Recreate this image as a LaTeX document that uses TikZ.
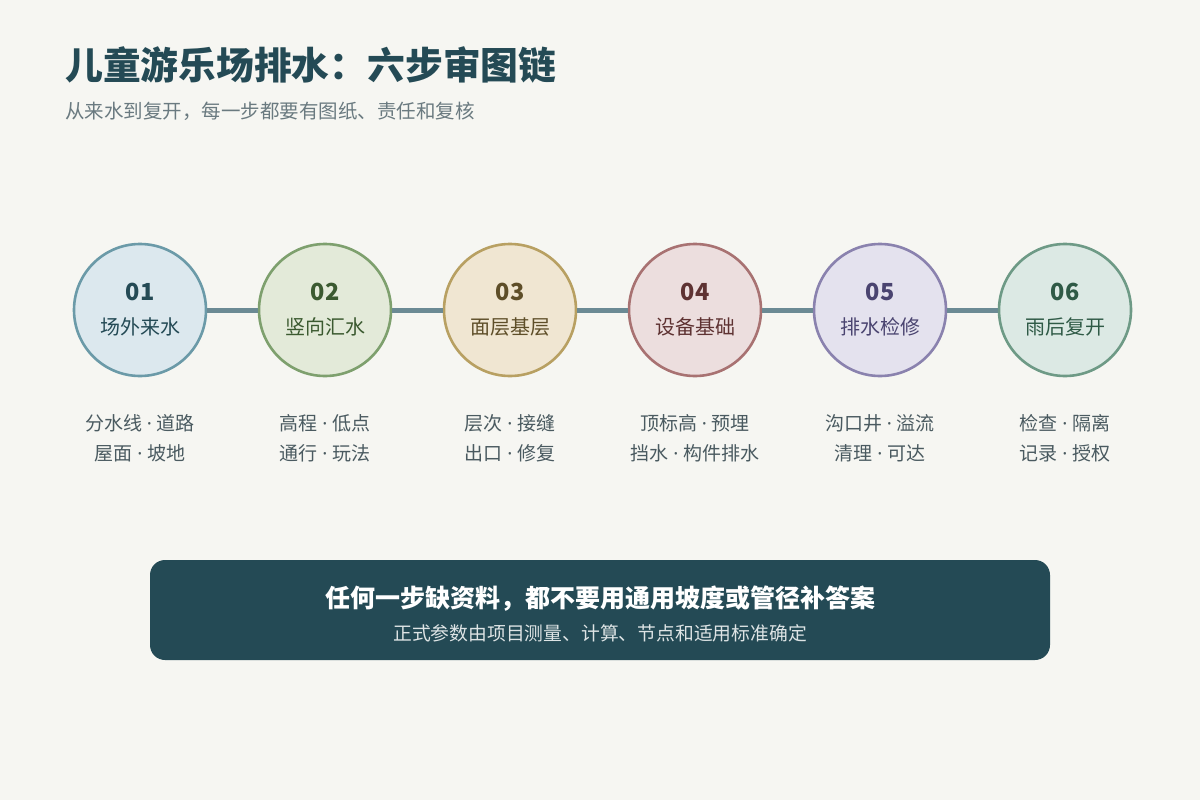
\documentclass[tikz,border=0pt]{standalone}
\usepackage{fontspec}
\setmainfont{Noto Sans CJK SC}
\newfontfamily\latinf{Noto Sans}
\newcommand{\sepdot}{{\latinf\ ·\ }}
\begin{document}
\begin{tikzpicture}[x=1pt,y=-1pt,
  stepc/.style={circle,minimum size=132pt,line width=2.6pt,inner sep=0pt},
  numtxt/.style={font=\fontsize{23.5}{26}\selectfont\bfseries},
  labtxt/.style={font=\fontsize{20}{22}\selectfont},
  subtxt/.style={font=\fontsize{19}{29.5}\selectfont,text=subc,align=center},
  conn/.style={line width=5pt,draw=linkc}]
\definecolor{bg}{HTML}{F6F6F2}
\definecolor{titlec}{HTML}{244A55}
\definecolor{subtc}{HTML}{6A7A80}
\definecolor{subc}{HTML}{4A5A60}
\definecolor{linkc}{HTML}{6B8A94}
\definecolor{boxc}{HTML}{244A55}
\definecolor{fa}{HTML}{DCE8EE}\definecolor{sa}{HTML}{6B9AA8}\definecolor{ta}{HTML}{244A55}
\definecolor{fb}{HTML}{E3EAD9}\definecolor{sb}{HTML}{7EA06E}\definecolor{tb}{HTML}{3B5A30}
\definecolor{fc}{HTML}{F0E6D2}\definecolor{sc}{HTML}{B8A062}\definecolor{tc}{HTML}{5E4E28}
\definecolor{fd}{HTML}{ECDEDE}\definecolor{sd}{HTML}{A87272}\definecolor{td}{HTML}{5E3232}
\definecolor{fe}{HTML}{E4E2EE}\definecolor{se}{HTML}{8A82AE}\definecolor{te}{HTML}{4A4470}
\definecolor{ff}{HTML}{DCE9E4}\definecolor{sf}{HTML}{6E9A86}\definecolor{tf}{HTML}{2F5A46}
\fill[bg] (0,0) rectangle (1200,800);
\useasboundingbox (0,0) rectangle (1200,800);
\node[anchor=base west,inner sep=0pt,text=titlec,font=\fontsize{37.8}{42}\selectfont\bfseries] (title) at (65,80) {儿童游乐场排水：六步审图链};
\node[anchor=base west,inner sep=0pt,text=subtc,font=\fontsize{19.5}{22}\selectfont] (subtitle) at (65,118) {从来水到复开，每一步都要有图纸、责任和复核};
\foreach \i/\x/\f/\s/\t/\n/\l/\a/\b in {1/140/fa/sa/ta/01/场外来水/分水线\sepdot 道路/屋面\sepdot 坡地,
  2/325/fb/sb/tb/02/竖向汇水/高程\sepdot 低点/通行\sepdot 玩法,
  3/510/fc/sc/tc/03/面层基层/层次\sepdot 接缝/出口\sepdot 修复,
  4/695/fd/sd/td/04/设备基础/顶标高\sepdot 预埋/挡水\sepdot 构件排水,
  5/880/fe/se/te/05/排水检修/沟口井\sepdot 溢流/清理\sepdot 可达,
  6/1065/ff/sf/tf/06/雨后复开/检查\sepdot 隔离/记录\sepdot 授权}{
  \node[stepc,fill=\f,draw=\s] (c\i) at (\x,310) {};
  \node[numtxt,text=\t,anchor=base,inner sep=0pt] (n\i) at (\x,300) {\n};
  \node[labtxt,text=\t,anchor=base,inner sep=0pt] (l\i) at (\x,334) {\l};
  \node[subtxt,anchor=base,inner sep=0pt] (d\i) at (\x,460) {\a\\\b};
}
\foreach \i/\j in {1/2,2/3,3/4,4/5,5/6}{
  \draw[conn] (c\i.east) -- (c\j.west);
}
\node[fill=boxc,rounded corners=15pt,minimum width=900pt,minimum height=100pt,inner sep=0pt] (box) at (600,610) {};
\node[anchor=base,inner sep=0pt,text=white,font=\fontsize{25}{28}\selectfont\bfseries] (boxt) at (600,607) {任何一步缺资料，都不要用通用坡度或管径补答案};
\node[anchor=base,inner sep=0pt,text=white!85!boxc,font=\fontsize{18.8}{20}\selectfont] (boxs) at (600,640) {正式参数由项目测量、计算、节点和适用标准确定};
\end{tikzpicture}
\end{document}
